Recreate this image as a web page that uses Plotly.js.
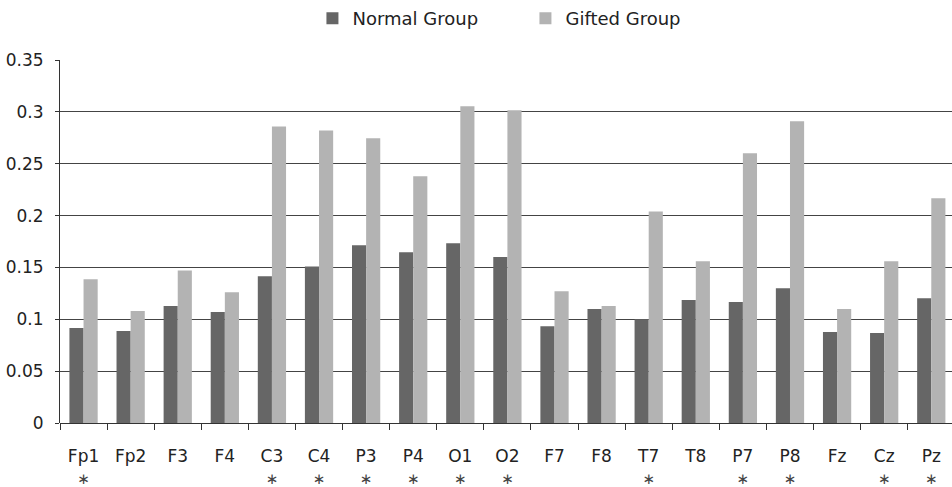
<!DOCTYPE html>
<html><head><meta charset="utf-8">
<script src="https://cdn.plot.ly/plotly-3.0.1.min.js"></script>
<style>body{margin:0;padding:0;background:#fff}#chart{width:952px;height:487px}</style>
</head><body><div id="chart"></div>
<script>
const categories = ["Fp1","Fp2","F3","F4","C3","C4","P3","P4","O1","O2","F7","F8","T7","T8","P7","P8","Fz","Cz","Pz"];
const significant = [true,false,false,false,true,true,true,true,true,true,false,false,true,false,true,true,false,true,true];
const normalGroup = [0.0915,0.0886,0.1127,0.107,0.1416,0.151,0.1715,0.1647,0.1734,0.160,0.0934,0.110,0.100,0.1185,0.1166,0.130,0.0877,0.0867,0.1204];
const giftedGroup = [0.1387,0.108,0.147,0.126,0.286,0.282,0.2746,0.238,0.3054,0.3015,0.127,0.1127,0.204,0.156,0.260,0.291,0.110,0.156,0.2168];
const yTicks = [0,0.05,0.1,0.15,0.2,0.25,0.3,0.35];
const yTickText = ["0","0.05","0.1","0.15","0.2","0.25","0.3","0.35"];

const tickText = categories.map((c,i)=> significant[i] ? c + "<br><span style=\"color:#444;font-size:15px\">\u2217</span>" : c + "<br> ");
const fam = "DejaVu Sans, Verdana, sans-serif";
const font = {family:fam, size:17, color:"#222"};

const traces = [
  {type:"bar", name:"Normal Group", x:categories, y:normalGroup, marker:{color:"#666666"}},
  {type:"bar", name:"Gifted Group", x:categories, y:giftedGroup, marker:{color:"#b3b3b3"}}
];
const layout = {
  width:952, height:487,
  margin:{l:60, r:0, t:59, b:64},
  paper_bgcolor:"#fff", plot_bgcolor:"#fff",
  font:font,
  barmode:"group", bargap:0.4, bargroupgap:0,
  showlegend:true,
  legend:{orientation:"h", x:0.283, xanchor:"left", y:1.115, yanchor:"middle",
          font:{family:fam, size:18, color:"#222"}, entrywidth:168, entrywidthmode:"pixels",
          itemclick:false, traceorder:"normal"},
  xaxis:{type:"category", range:[-0.5,18.44], tickmode:"array", tickvals:categories, ticktext:tickText,
         tickson:"boundaries", ticks:"outside", ticklen:6, tickcolor:"#333", ticklabelstandoff:21,
         showline:false, showgrid:false, zeroline:false, automargin:false, tickfont:{size:17}},
  yaxis:{range:[0,0.35], tickmode:"array", tickvals:yTicks, ticktext:yTickText,
         ticks:"outside", ticklen:4, tickcolor:"#333", ticklabelstandoff:8, showline:true, linecolor:"#333", linewidth:1,
         showgrid:true, gridcolor:"#444", gridwidth:1, zeroline:true, zerolinecolor:"#333", zerolinewidth:1,
         automargin:false, tickfont:{size:17}}
};
Plotly.newPlot("chart", traces, layout, {staticPlot:true, displayModeBar:false});
</script></body></html>
